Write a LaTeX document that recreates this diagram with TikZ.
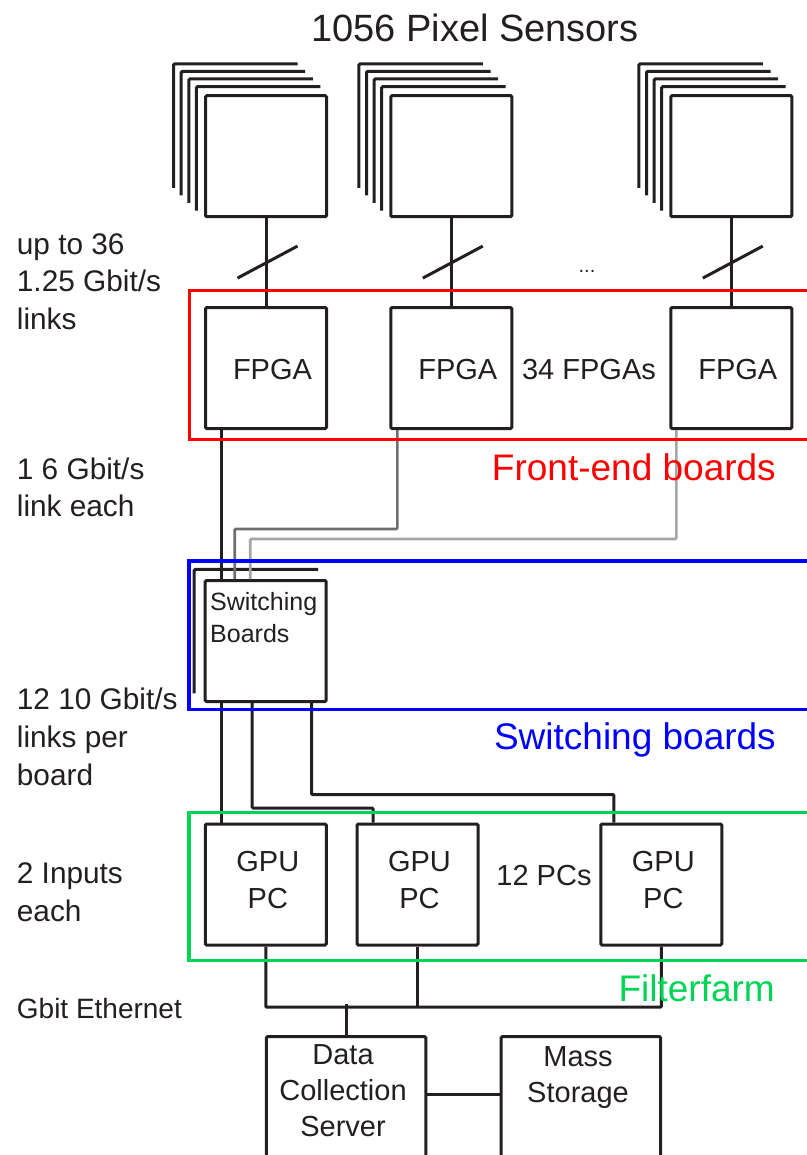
\documentclass[tikz,border=0pt]{standalone}
\usepackage{fontspec}
\setmainfont{Liberation Sans}
\usetikzlibrary{calc}
\definecolor{ink}{HTML}{231F20}
\definecolor{midgray}{HTML}{6D6E71}
\definecolor{palegray}{HTML}{A3A5A8}
\definecolor{fered}{HTML}{FF0000}
\definecolor{swblue}{HTML}{0000FF}
\definecolor{ffgreen}{HTML}{00D455}

\begin{document}
\begin{tikzpicture}[x=1pt,y=1pt,
  unit/.style={draw=ink, line width=3pt, rounded corners=1.2pt,
    minimum width=121pt, minimum height=121pt, inner sep=0pt},
  wideunit/.style={unit, minimum width=159.5pt, minimum height=200pt},
  frame/.style={draw=ink, line width=3pt, rounded corners=1.2pt},
  link/.style={draw=ink, line width=3pt, rounded corners=1pt},
  link2/.style={draw=midgray, line width=2.6pt, rounded corners=1pt},
  link3/.style={draw=palegray, line width=2.6pt, rounded corners=1pt},
  txt/.style={text=ink, inner sep=0pt, font=\fontsize{29}{36.6}\selectfont},
  side/.style={text=ink, inner sep=0pt, align=left, anchor=base west,
    font=\fontsize{29.8}{37.6}\selectfont},
  grouplbl/.style={inner sep=0pt, anchor=base east, font=\fontsize{37}{44}\selectfont},
  group/.style={line width=3.2pt}
]
\useasboundingbox (0,0) rectangle (806,-1155);

% title
\node[txt, font=\fontsize{38}{44}\selectfont, anchor=base] (title) at (475,-41.7) {1056 Pixel Sensors};

% pixel sensor stacks
\foreach \i/\x in {1/266, 2/451.3, 3/731.3}
  \node[unit] (s\i) at (\x,-156.2) {};
\foreach \i in {1,2,3}
  \foreach \k in {1,...,4}
    \draw[frame] ($(s\i.south west)+(-7.6*\k,7.6*\k)$) |- ($(s\i.north east)+(-7.6*\k,7.6*\k)$);

% FPGAs
\foreach \i/\x in {1/266, 2/451.3, 3/731.3} {
  \node[unit] (f\i) at (\x,-368) {};
  \node[txt, anchor=base] (f\i t) at ($(f\i.center)+(6.5,-11.3)$) {FPGA};
}

% sensor links with bus slashes
\foreach \i in {1,2,3} {
  \draw[link] (s\i.south) -- (f\i.north);
  \draw[link] ($(s\i.south)!0.5!(f\i.north)+(-28.5,-16)$) -- ++(60,32);
}
\node[txt, font=\fontsize{20}{24}\selectfont, anchor=base] (dots) at (587,-272.7) {...};
\node[txt, anchor=base] (nfpga) at (589,-379.3) {34 FPGAs};

% switching board
\node[unit] (sw) at (265.7,-641) {};
\draw[frame] ($(sw.south west)+(-9.5,9.6)$) |- ($(sw.north east)+(-9.5,9.6)$);
\node[txt, font=\fontsize{25}{32.3}\selectfont, align=left, anchor=base west] (swt) at (210,-642.3) {Switching\\Boards};

% FPGA to switching board
\draw[link] ([xshift=17pt]f1.south west) -- ([xshift=17pt]f1.south west |- sw.north);
\draw[link2] ([xshift=8pt]f2.south west) -- ++(0,-99) -| ([xshift=31pt]sw.north west);
\draw[link3] ([xshift=7pt]f3.south west) -- ++(0,-109) -| ([xshift=46.5pt]sw.north west);

% GPU PCs
\foreach \i/\x in {1/265.8, 2/417.5, 3/661.3} {
  \node[unit] (g\i) at (\x,-884.5) {};
  \node[txt, align=center, anchor=base] (g\i t) at ($(g\i.center)+(2,-23.8)$) {GPU\\PC};
}
\node[txt, anchor=base] (npc) at (544,-885) {12 PCs};

% switching board to GPU PCs
\draw[link] ([xshift=18pt]sw.south west) -- ([xshift=18pt]sw.south west |- g1.north);
\draw[link] ([xshift=48.5pt]sw.south west) -- ++(0,-105) -| ([xshift=17.5pt]g2.north west);
\draw[link] ([xshift=108pt]sw.south west) -- ++(0,-91.6) -| ([xshift=14.5pt]g3.north west);

% storage
\node[wideunit] (dcs) at (346.2,-1136.7) {};
\node[wideunit] (ms) at (580.85,-1136.7) {};
\node[txt, font=\fontsize{29}{36.3}\selectfont, align=center, anchor=base] (dcst) at (343,-1136.7) {Data\\Collection\\Server};
\node[txt, align=center, anchor=base] (mst) at (578,-1102.7) {Mass\\Storage};

% ethernet
\draw[link] (g1.south) -- ++(0,-60.7) -| (g3.south);
\draw[link] (g2.south) -- ++(0,-60.7);
\draw[link] (dcs.north) -- ++(0,31);
\draw[link] ([yshift=-59pt]dcs.north east) -- ([yshift=-59pt]ms.north west);

% groups
\draw[group, fered] (189.5,-290.7) rectangle (840,-439.3);
\draw[group, swblue] (189,-561) rectangle (840,-709.3);
\draw[group, ffgreen] (189,-812.3) rectangle (840,-960.7);
\node[grouplbl, text=fered] (feb) at (776,-480) {Front-end boards};
\node[grouplbl, text=swblue] (swb) at (776,-749.3) {Switching boards};
\node[grouplbl, text=ffgreen] (ffl) at (775,-1001) {Filterfarm};

% side notes
\node[side] (n1) at (16.7,-329.3) {up to 36\\1.25 Gbit/s\\links};
\node[side] (n2) at (16.7,-516.7) {1 6 Gbit/s\\link each};
\node[side, font=\fontsize{29.8}{38}\selectfont] (n3) at (16.7,-785) {12 10 Gbit/s\\links per\\board};
\node[side, font=\fontsize{29.8}{38.4}\selectfont] (n4) at (16.7,-921.7) {2 Inputs\\each};
\node[side, font=\fontsize{28}{32}\selectfont] (n5) at (16.7,-1018.3) {Gbit Ethernet};
\end{tikzpicture}
\end{document}
